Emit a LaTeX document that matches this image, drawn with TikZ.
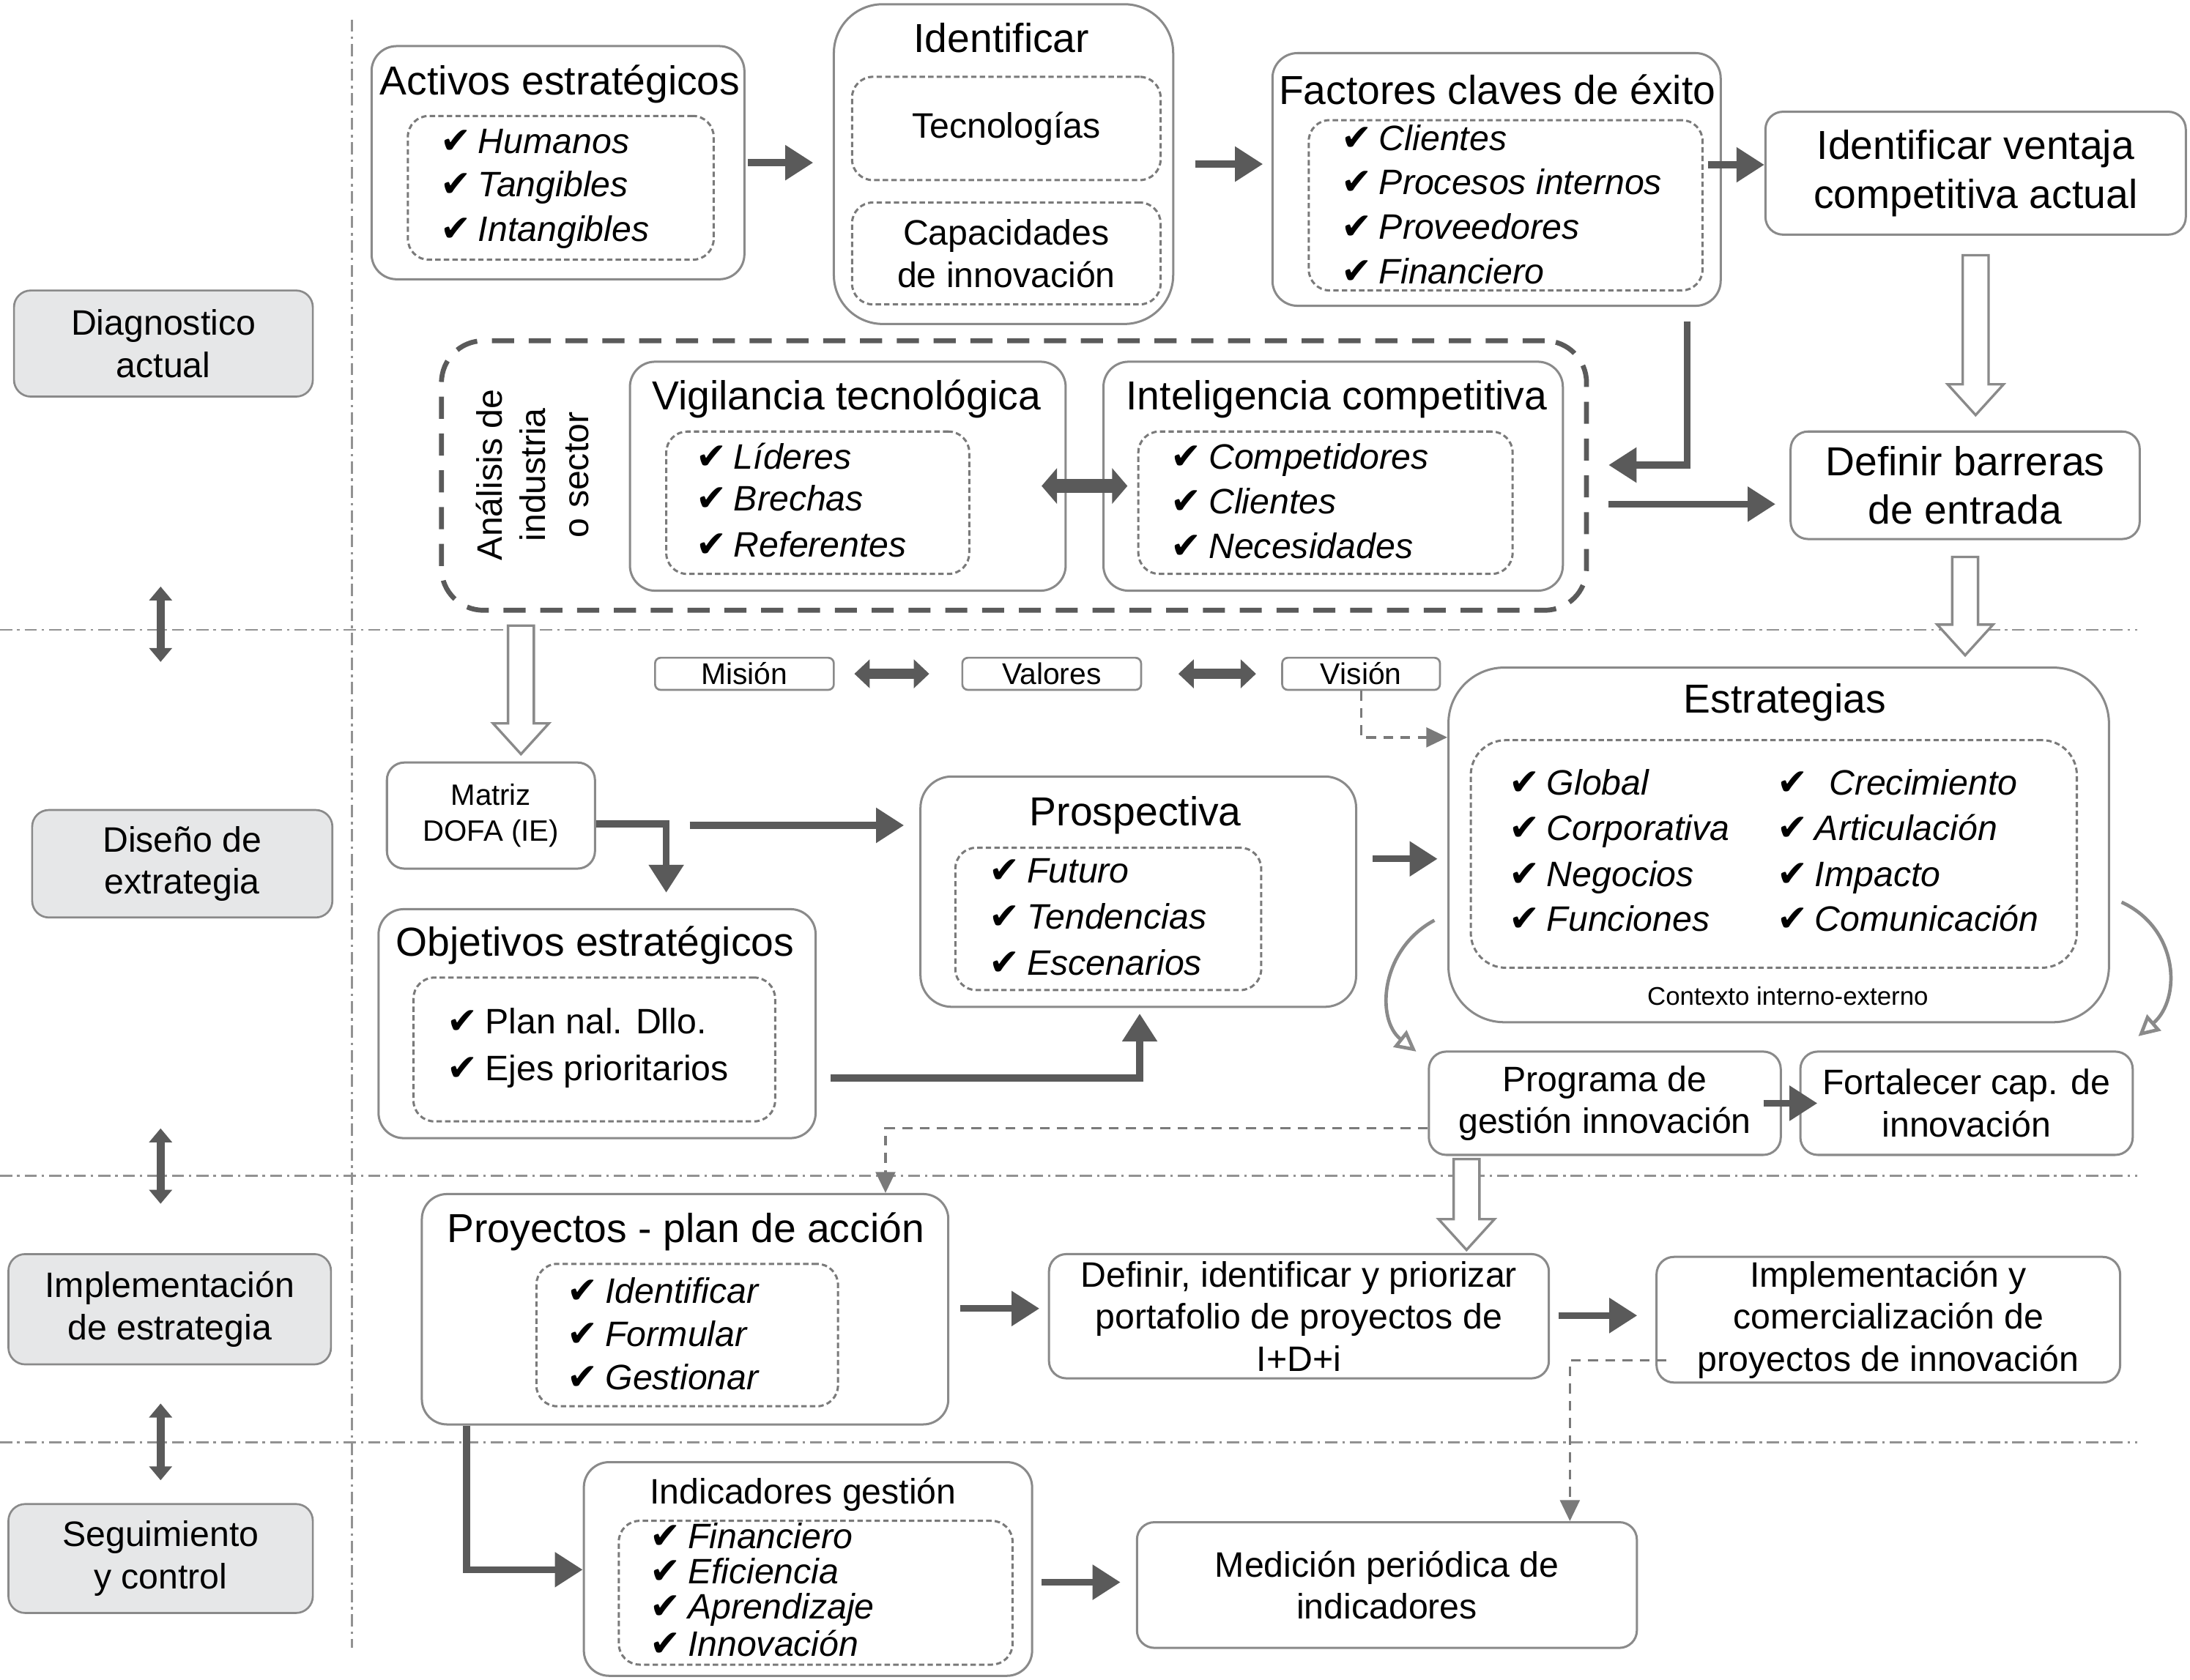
\documentclass[tikz,border=0pt]{standalone}
\usepackage{fontspec}
\setmainfont{Liberation Sans}
\newfontfamily\dejavu{DejaVu Sans}
\usetikzlibrary{arrows.meta,calc}
\definecolor{bord}{HTML}{8A8A8A}
\definecolor{arr}{HTML}{5A5A5A}
\definecolor{sidefill}{HTML}{E6E7E8}
\definecolor{dashc}{HTML}{7A7A7A}
\definecolor{linec}{HTML}{929292}
\newcommand\ck{\makebox[1.07em][l]{\dejavu\fontsize{15}{15}\selectfont ✔}}
\newcommand\fT{\fontsize{16.5}{19.9}\selectfont}
\newcommand\fM{\fontsize{14.4}{17.2}\selectfont}
\newcommand\hollowarrow[2]{\path[hol] let \p1=#1, \p2=#2 in
  (\x1-0.185cm,\y1) -- (\x1+0.185cm,\y1) -- (\x1+0.185cm,\y2+0.44cm) -- (\x1+0.4cm,\y2+0.44cm)
  -- (\x1,\y2) -- (\x1-0.4cm,\y2+0.44cm) -- (\x1-0.185cm,\y2+0.44cm) -- cycle;}
\tikzset{
 box/.style={draw=bord, line width=0.9pt, rounded corners=0.36cm, fill=white, inner sep=0pt},
 side/.style={draw=bord, line width=0.8pt, rounded corners=0.24cm, fill=sidefill, align=center, inner sep=0pt, font=\fM},
 innerbox/.style={draw=dashc, line width=0.9pt, dash pattern=on 2.2pt off 1.3pt, rounded corners=0.3cm, inner sep=0pt},
 smallbox/.style={draw=bord, line width=0.8pt, rounded corners=0.08cm, fill=white, inner sep=0pt, font=\fontsize{12.2}{14}\selectfont},
 anabox/.style={draw=arr, line width=2pt, dash pattern=on 9pt off 6pt, rounded corners=0.6cm, inner sep=0pt},
 ttl/.style={font=\fT, inner sep=0pt},
 txt/.style={font=\fM, align=center, inner sep=0pt},
 item/.style={font=\fM, anchor=base west, inner sep=0pt, yshift=-0.18cm},
 fat/.style={draw=arr, line width=2.8pt, -{Triangle[length=0.4cm,width=0.48cm]}},
 fatdbl/.style={draw=arr, line width=5.5pt, {Triangle[length=0.22cm,width=0.5cm]}-{Triangle[length=0.22cm,width=0.5cm]}},
 misdbl/.style={draw=arr, line width=4pt, {Triangle[length=0.22cm,width=0.4cm]}-{Triangle[length=0.22cm,width=0.4cm]}},
 sidedbl/.style={draw=arr, line width=3.2pt, {Triangle[length=0.2cm,width=0.32cm]}-{Triangle[length=0.2cm,width=0.32cm]}},
 dasharr/.style={draw=dashc, line width=1pt, dash pattern=on 4pt off 3pt, -{Triangle[length=0.3cm,width=0.28cm]}},
 sepline/.style={draw=linec, line width=0.8pt, dash pattern=on 5pt off 2pt on 1pt off 2pt},
 curv/.style={draw=bord, line width=1.4pt, -{Triangle[open, length=0.3cm, width=0.3cm, fill=white]}},
 hol/.style={draw=bord, fill=white, line width=1pt, line join=miter},
}
\begin{document}
\begin{tikzpicture}[x=0.02cm, y=-0.02cm]
\fill[white] (0,0) rectangle (1568,1203);
\useasboundingbox (0,0) rectangle (1568,1203);

% separators
\draw[sepline] (0,451) -- (1530,451);
\draw[sepline] (0,842) -- (1530,842);
\draw[sepline] (0,1033) -- (1530,1033);
\draw[sepline] (252,14) -- (252,1180);

% side labels
\node[side, minimum width=4.28cm, minimum height=1.52cm] (diag) at (117,246) {Diagnostico\\actual};
\node[side, minimum width=4.30cm, minimum height=1.54cm] (diseno) at (130.5,618.5) {Diseño de\\extrategia};
\node[side, minimum width=4.62cm, minimum height=1.58cm] (implside) at (121.5,937.5) {Implementación\\de estrategia};
\node[side, minimum width=4.36cm, minimum height=1.56cm] (seg) at (115,1116) {Seguimiento\\y control};

\coordinate (s1a) at (115,420); \coordinate (s1b) at (115,474);
\coordinate (s2a) at (115,808); \coordinate (s2b) at (115,862);
\coordinate (s3a) at (115,1005); \coordinate (s3b) at (115,1060);
\draw[sidedbl] (s1a) -- (s1b);
\draw[sidedbl] (s2a) -- (s2b);
\draw[sidedbl] (s3a) -- (s3b);

% ---- top row
\node[box, minimum width=5.34cm, minimum height=3.34cm] (activos) at (399.5,116.5) {};
\node[innerbox, minimum width=4.38cm, minimum height=2.06cm] (activosin) at (401.5,134.5) {};
\node[ttl] (activost) at (401,60) {Activos estratégicos};
\node[item] (a1) at (315,101) {\ck\textit{Humanos}};
\node[item] (a2) at (315,132) {\ck\textit{Tangibles}};
\node[item] (a3) at (315,164) {\ck\textit{Intangibles}};

\node[box, rounded corners=0.7cm, minimum width=4.86cm, minimum height=4.58cm] (ident) at (718.5,117.5) {};
\node[ttl] (identt) at (717,27) {Identificar};
\node[innerbox, txt, minimum width=4.42cm, minimum height=1.48cm] (identin1) at (720.5,92) {Tecnologías};
\node[innerbox, txt, minimum width=4.42cm, minimum height=1.46cm] (identin2) at (720.5,181.5) {Capacidades\\de innovación};

\node[box, minimum width=6.42cm, minimum height=3.62cm] (factores) at (1071.5,128.5) {};
\node[innerbox, minimum width=5.64cm, minimum height=2.44cm] (factoresin) at (1078,147) {};
\node[ttl] (factorest) at (1072,64) {Factores claves de éxito};
\node[item] (f1) at (960,99) {\ck\textit{Clientes}};
\node[item] (f2) at (960,130) {\ck\textit{Procesos internos}};
\node[item] (f3) at (960,162) {\ck\textit{Proveedores}};
\node[item] (f4) at (960,194) {\ck\textit{Financiero}};

\node[box, rounded corners=0.25cm, align=center, font=\fT, minimum width=6.02cm, minimum height=1.76cm] (ventaja) at (1414.5,124) {Identificar ventaja\\competitiva actual};
\node[box, rounded corners=0.25cm, align=center, font=\fT, minimum width=5.0cm, minimum height=1.54cm] (barreras) at (1407,347.5) {Definir barreras\\de entrada};

% ---- analysis row
\node[anabox, minimum width=16.4cm, minimum height=3.86cm] (ana) at (726,340.5) {};
\node[txt, rotate=90, font=\fontsize{14.4}{17.6}\selectfont] (anat) at (381,340) {Análisis de\\industria\\o sector};

\node[box, minimum width=6.24cm, minimum height=3.28cm] (vig) at (607,341) {};
\node[innerbox, minimum width=4.34cm, minimum height=2.04cm] (vigin) at (585.5,360) {};
\node[ttl] (vigt) at (606,286) {Vigilancia tecnológica};
\node[item] (v1) at (498,327) {\ck\textit{Líderes}};
\node[item] (v2) at (498,357) {\ck\textit{Brechas}};
\node[item] (v3) at (498,390) {\ck\textit{Referentes}};

\node[box, minimum width=6.58cm, minimum height=3.28cm] (intel) at (954.5,341) {};
\node[innerbox, minimum width=5.36cm, minimum height=2.04cm] (intelin) at (949,360) {};
\node[ttl] (intelt) at (957,286) {Inteligencia competitiva};
\node[item] (i1) at (838,327) {\ck\textit{Competidores}};
\node[item] (i2) at (838,359) {\ck\textit{Clientes}};
\node[item] (i3) at (838,391) {\ck\textit{Necesidades}};

% ---- design section
\node[smallbox, minimum width=2.56cm, minimum height=0.46cm] (mision) at (533,482.5) {Misión};
\node[smallbox, minimum width=2.56cm, minimum height=0.46cm] (valores) at (753,482.5) {Valores};
\node[smallbox, minimum width=2.26cm, minimum height=0.46cm] (vision) at (974.5,482.5) {Visión};

\node[box, rounded corners=0.8cm, minimum width=9.46cm, minimum height=5.08cm] (estr) at (1273.5,605) {};
\node[innerbox, rounded corners=0.5cm, minimum width=8.68cm, minimum height=3.26cm] (estrin) at (1270,611.5) {};
\node[ttl] (estrt) at (1278,503) {Estrategias};
\node[item] (e1) at (1080,560) {\ck\textit{Global}};
\node[item] (e2) at (1080,593) {\ck\textit{Corporativa}};
\node[item] (e3) at (1080,626) {\ck\textit{Negocios}};
\node[item] (e4) at (1080,658) {\ck\textit{Funciones}};
\node[item] (e5) at (1272,560) {\ck\hspace{0.4em}\textit{Crecimiento}};
\node[item] (e6) at (1272,593) {\ck\textit{Articulación}};
\node[item] (e7) at (1272,626) {\ck\textit{Impacto}};
\node[item] (e8) at (1272,658) {\ck\textit{Comunicación}};
\node[inner sep=0pt, font=\fontsize{10.4}{12}\selectfont] (ctx) at (1280,713) {Contexto interno-externo};

\node[box, rounded corners=0.25cm, align=center, font=\fontsize{12}{14.8}\selectfont, minimum width=2.98cm, minimum height=1.52cm] (matriz) at (351.5,584) {Matriz\\DOFA (IE)};

\node[box, rounded corners=0.45cm, minimum width=6.24cm, minimum height=3.30cm] (prosp) at (815,638.5) {};
\node[innerbox, minimum width=4.38cm, minimum height=2.04cm] (prospin) at (793.5,658) {};
\node[ttl] (prospt) at (813,584) {Prospectiva};
\node[item] (p1) at (708,623) {\ck\textit{Futuro}};
\node[item] (p2) at (708,656) {\ck\textit{Tendencias}};
\node[item] (p3) at (708,689) {\ck\textit{Escenarios}};

\node[box, minimum width=6.26cm, minimum height=3.28cm] (obj) at (427.5,733) {};
\node[innerbox, minimum width=5.18cm, minimum height=2.06cm] (objin) at (425.5,751.5) {};
\node[ttl] (objt) at (426,677) {Objetivos estratégicos};
\node[item] (o1) at (320,731) {\ck Plan nal. Dllo.};
\node[item] (o2) at (320,765) {\ck Ejes prioritarios};

\node[box, rounded corners=0.25cm, txt, minimum width=5.04cm, minimum height=1.48cm] (prog) at (1149,790) {Programa de\\gestión innovación};
\node[box, rounded corners=0.25cm, txt, minimum width=4.76cm, minimum height=1.48cm] (fort) at (1408,790) {Fortalecer cap. de\\innovación};

% ---- implementation
\node[box, minimum width=7.54cm, minimum height=3.30cm] (proy) at (490.5,937.5) {};
\node[innerbox, minimum width=4.32cm, minimum height=2.04cm] (proyin) at (492,956) {};
\node[ttl] (proyt) at (491,882) {Proyectos - plan de acción};
\node[item] (r1) at (406,924) {\ck\textit{Identificar}};
\node[item] (r2) at (406,955) {\ck\textit{Formular}};
\node[item] (r3) at (406,986) {\ck\textit{Gestionar}};

\node[box, rounded corners=0.25cm, txt, minimum width=7.16cm, minimum height=1.78cm] (def) at (930,942.5) {Definir, identificar y priorizar\\portafolio de proyectos de\\I+D+i};
\node[box, rounded corners=0.25cm, txt, minimum width=6.64cm, minimum height=1.80cm] (implb) at (1352,945) {Implementación y\\comercialización de\\proyectos de innovación};

% ---- follow-up
\node[box, minimum width=6.42cm, minimum height=3.06cm] (ind) at (578.5,1123.5) {};
\node[innerbox, minimum width=5.64cm, minimum height=2.06cm] (indin) at (584,1140.5) {};
\node[txt] (indt) at (575,1070) {Indicadores gestión};
\node[item] (n1) at (465,1100) {\ck\textit{Financiero}};
\node[item] (n2) at (465,1125) {\ck\textit{Eficiencia}};
\node[item] (n3) at (465,1150) {\ck\textit{Aprendizaje}};
\node[item] (n4) at (465,1177) {\ck\textit{Innovación}};

\node[box, rounded corners=0.25cm, txt, minimum width=7.16cm, minimum height=1.80cm] (med) at (993,1135) {Medición periódica de\\indicadores};

% ---- connectors
\draw[fat, shorten <=1pt, shorten >=0.28cm] (activos.east) -- (activos.east -| ident.west);
\draw[fat, shorten <=0.3cm, shorten >=0.12cm] (ident.east) -- (ident.east -| factores.west);
\draw[fat, shorten <=-0.2cm] (factores.east |- 0,118) -- (ventaja.west |- 0,118);
\hollowarrow{($(ventaja.south)+(0,14)$)}{($(barreras.north)+(0,-11)$)}
\coordinate (fk) at (1208,230);
\draw[fat, shorten >=0.28cm] (fk) |- (ana.east |- 0,333);
\draw[fat, shorten <=0.28cm, shorten >=0.2cm] (ana.east |- 0,361) -- (barreras.west |- 0,361);
\draw[fatdbl, shorten <=-0.36cm, shorten >=-0.36cm] (vig.east |- 0,348) -- (intel.west |- 0,348);
\hollowarrow{($(barreras.south)+(0,12)$)}{($(estr.north -| barreras.south)+(0,-8)$)}
\coordinate (h1a) at (373,448); \coordinate (h1b) at (373,540);
\hollowarrow{(h1a)}{(h1b)}
\draw[misdbl, shorten <=0.28cm, shorten >=0.46cm] (mision.east) -- (valores.west);
\draw[misdbl, shorten <=0.52cm, shorten >=0.36cm] (valores.east) -- (vision.west);
\draw[dasharr] (vision.south) |- (estr.west |- 0,528);
\draw[fat, shorten >=0.22cm] (matriz.east |- 0,590) -| (obj.north -| 477,0);
\draw[fat, shorten <=1.34cm, shorten >=0.22cm] (matriz.east |- 0,591) -- (prosp.west |- 0,591);
\draw[fat, shorten <=0.22cm, shorten >=0.14cm] (prosp.east |- 0,615) -- (estr.west |- 0,615);
\draw[fat, shorten <=0.2cm, shorten >=0.08cm] (obj.east |- 0,772) -| (prosp.south -| 816,0);
\coordinate (c1a) at (1027,659); \coordinate (c1b) at (1014,753);
\draw[curv] (c1a) .. controls (988,680) and (985,730) .. (c1b);
\coordinate (c2a) at (1519,646); \coordinate (c2b) at (1531,742);
\draw[curv] (c2a) .. controls (1560,665) and (1562,715) .. (c2b);
\draw[fat, shorten <=-0.26cm, shorten >=-0.26cm] (prog.east) -- (fort.west);
\draw[dasharr] (prog.west |- 0,808) -| (proy.north -| 634,0);
\coordinate (h2a) at (1050,830); \coordinate (h2b) at (1050,895);
\hollowarrow{(h2a)}{(h2b)}
\draw[fat, shorten <=0.16cm, shorten >=0.12cm] (proy.east |- 0,937) -- (def.west |- 0,937);
\draw[fat, shorten <=0.12cm, shorten >=0.26cm] (def.east |- 0,942) -- (implb.west |- 0,942);
\draw[dasharr, shorten <=-0.16cm] (implb.west |- 0,974) -| (med.north -| 1124,0);
\draw[fat] (proy.south -| 334,0) |- (ind.west |- 0,1124);
\draw[fat, shorten <=0.12cm, shorten >=0.22cm] (ind.east |- 0,1133) -- (med.west |- 0,1133);
\end{tikzpicture}
\end{document}
